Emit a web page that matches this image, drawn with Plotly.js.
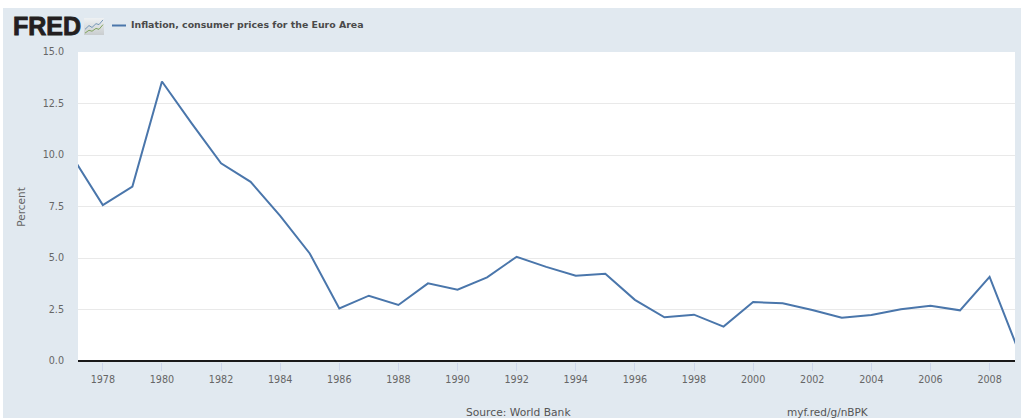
<!DOCTYPE html>
<html>
<head>
<meta charset="utf-8">
<script src="https://cdn.plot.ly/plotly-3.0.1.min.js"></script>
<style>
html,body{margin:0;padding:0;background:#fff;overflow:hidden}
#chart{position:absolute;left:3px;top:8px;width:1018px;height:410px}
.annotation[data-index="0"] text{stroke:#231f20;stroke-width:.9px}
</style>
</head>
<body>
<div id="chart"></div>
<script>
const seriesName = 'Inflation, consumer prices for the Euro Area';
const years = [1977,1978,1979,1980,1981,1982,1983,1984,1985,1986,1987,1988,1989,1990,1991,1992,1993,1994,1995,1996,1997,1998,1999,2000,2001,2002,2003,2004,2005,2006,2007,2008,2009];
const inflation = [9.85,7.57,8.47,13.57,11.55,9.6,8.7,7.05,5.22,2.55,3.17,2.72,3.77,3.46,4.06,5.06,4.57,4.14,4.23,2.97,2.12,2.25,1.67,2.86,2.8,2.48,2.1,2.23,2.51,2.68,2.46,4.08,0.42];
const xTicks = [1978,1980,1982,1984,1986,1988,1990,1992,1994,1996,1998,2000,2002,2004,2006,2008];
const yTicks = [0,2.5,5,7.5,10,12.5,15];
const yTickLabels = ['0.0','2.5','5.0','7.5','10.0','12.5','15.0'];

const W = 1018, H = 410;
const M = {l: 75, r: 6, t: 44, b: 56, pad: 0};
const plotW = W - M.l - M.r, plotH = H - M.t - M.b;
// chart-div pixels to paper fractions (paper spans the plot area), for chrome elements only
const px = v => (v - M.l) / plotW, py = v => 1 - (v - M.t) / plotH;
const font = 'DejaVu Sans, sans-serif';

const iconSvg = '<svg xmlns="http://www.w3.org/2000/svg" width="20" height="18" viewBox="0 0 20 18">' +
  '<defs><linearGradient id="g" x1="0" y1="0" x2="0" y2="1"><stop offset="0" stop-color="#eef1f3"/><stop offset="1" stop-color="#c9cdcf"/></linearGradient></defs>' +
  '<rect width="20" height="18" fill="url(#g)"/>' +
  '<polyline points="1,12 5,8 8,10 12,6 15,7 19,2" fill="none" stroke="#6f93b5" stroke-width="1"/>' +
  '<polyline points="1,16 5,13 8,14 12,11 15,12 19,7" fill="none" stroke="#7fa35a" stroke-width="1"/></svg>';

Plotly.newPlot('chart', [{
  type: 'scatter', mode: 'lines', name: seriesName,
  x: years, y: inflation,
  line: {color: '#4a76ab', width: 2},
  hoverinfo: 'x+y'
}], {
  width: W, height: H, autosize: false,
  paper_bgcolor: '#e1e9f0', plot_bgcolor: '#ffffff',
  margin: M,
  showlegend: false,
  font: {family: font, size: 10, color: '#666'},
  xaxis: {
    range: [1977.16, 2008.86], tickmode: 'array', tickvals: xTicks,
    ticktext: xTicks.map(String), showgrid: false, zeroline: false, showline: false,
    ticks: 'outside', ticklen: 8, tickwidth: 1, tickcolor: '#ccd6eb',
    tickfont: {family: font, size: 9.6, color: '#666'}
  },
  yaxis: {
    range: [-0.0485, 15], tickmode: 'array', tickvals: yTicks, ticktext: yTickLabels,
    showgrid: true, gridcolor: '#e9e9e9', gridwidth: 1, zeroline: false, showline: false,
    ticks: '', ticklabelstandoff: 13,
    tickfont: {family: font, size: 9.6, color: '#666'},
    title: {text: 'Percent', standoff: 14, font: {family: font, size: 10.5, color: '#666'}}
  },
  shapes: [
    {type: 'line', xref: 'paper', x0: 0, x1: 1, yref: 'y', y0: 0, y1: 0, layer: 'above',
     line: {color: '#1a1a1a', width: 2}},
    {type: 'line', xref: 'paper', yref: 'paper', x0: px(109), x1: px(123), y0: py(17.5), y1: py(17.5),
     line: {color: '#4a76ab', width: 2}}
  ],
  images: [{
    source: 'data:image/svg+xml;utf8,' + encodeURIComponent(iconSvg),
    xref: 'paper', yref: 'paper', x: px(81), y: py(10), sizex: 20 / plotW, sizey: 17 / plotH,
    sizing: 'stretch', xanchor: 'left', yanchor: 'top', layer: 'above'
  }],
  annotations: [
    {text: 'FRED', xref: 'paper', yref: 'paper', x: px(8.5), y: py(18), xanchor: 'left', yanchor: 'middle',
     showarrow: false, borderpad: 0, font: {family: 'Liberation Sans, sans-serif', size: 25, color: '#231f20', weight: 'bold'}},
    {text: '<b>' + seriesName + '</b>', xref: 'paper', yref: 'paper', x: px(127), y: py(17), xanchor: 'left', yanchor: 'middle',
     showarrow: false, borderpad: 0, font: {family: font, size: 9.4, color: '#4a4a4a'}},
    {text: 'Source: World Bank', xref: 'paper', yref: 'paper', x: px(461.5), y: py(404), xanchor: 'left', yanchor: 'middle',
     showarrow: false, borderpad: 0, font: {family: font, size: 10.7, color: '#555'}},
    {text: 'myf.red/g/nBPK', xref: 'paper', yref: 'paper', x: px(782.5), y: py(404), xanchor: 'left', yanchor: 'middle',
     showarrow: false, borderpad: 0, font: {family: font, size: 10.5, color: '#555'}}
  ]
}, {displayModeBar: false, staticPlot: true});
</script>
</body>
</html>
